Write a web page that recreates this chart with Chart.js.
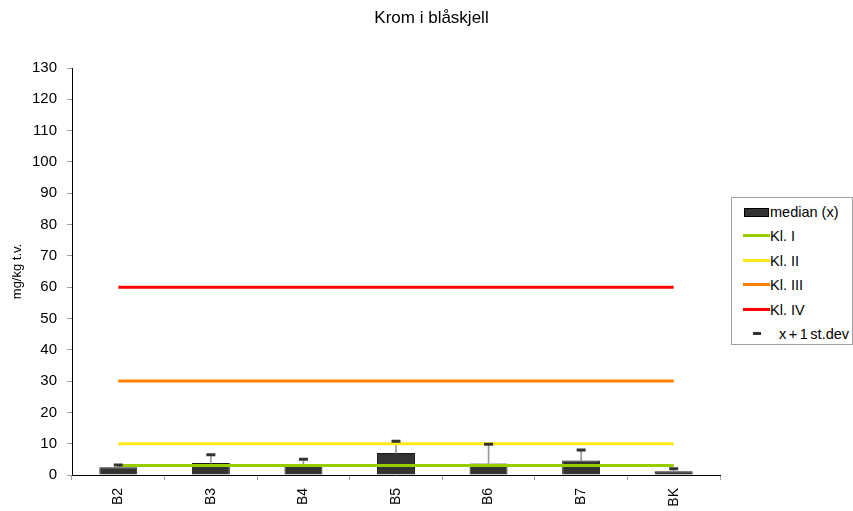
<!DOCTYPE html>
<html><head><meta charset="utf-8">
<script src="https://cdn.jsdelivr.net/npm/chart.js@4/dist/chart.umd.min.js"></script>
<style>
html,body{margin:0;padding:0;background:#fff;}
#wrap{position:relative;width:853px;height:511px;}
canvas{position:absolute;left:0;top:0;}
#title{position:absolute;left:0;width:863px;top:8px;text-align:center;font:17px "Liberation Sans",Arial,sans-serif;color:#000;}
#legend{position:absolute;left:731px;top:197px;width:120px;height:146px;border:1px solid #a0a0a0;background:#fff;font:14.5px "Liberation Sans",Arial,sans-serif;color:#000;overflow:hidden;}
.row{position:absolute;left:0;height:16px;line-height:16px;white-space:nowrap;}
.sym{position:absolute;}
.txt{position:absolute;}
</style></head><body>
<div id="wrap"><canvas id="c" width="853" height="511"></canvas><div id="title">Krom i blåskjell</div><div id="legend"></div></div>
<script>
const categories = ["B2","B3","B4","B5","B6","B7","BK"];
const median = [2.5, 3.8, 3.5, 7.0, 3.7, 4.6, 1.2];
const medianPlusSd = [3.2, 6.5, 5.0, 10.8, 9.8, 8.0, 2.0];
const klI = [3,3,3,3,3,3,3];
const klII = [10,10,10,10,10,10,10];
const klIII = [30,30,30,30,30,30,30];
const klIV = [60,60,60,60,60,60,60];
const yTicks = [0,10,20,30,40,50,60,70,80,90,100,110,120,130];

const FONT = '"Liberation Sans", Arial, sans-serif';
const lineDs = (label, data, color) => ({type:'line', label, data, borderColor:color, backgroundColor:color, borderWidth:3, pointRadius:0, fill:false, order:2});

new Chart(document.getElementById('c'), {
  type: 'bar',
  data: {
    labels: categories,
    datasets: [
      {label:'median (x)', data: median, backgroundColor:'#333333', borderColor:'#1a1a1a', borderWidth:1, barPercentage:0.41, categoryPercentage:1, grouped:false, order:5},
      {label:'whisker', data: median.map((m,i)=>[m, medianPlusSd[i]]), backgroundColor:'#999999', borderWidth:0, barThickness:1, grouped:false, order:4},
      lineDs('Kl. I', klI, '#99CC00'),
      lineDs('Kl. II', klII, '#FFE81A'),
      lineDs('Kl. III', klIII, '#FF8000'),
      lineDs('Kl. IV', klIV, '#FF0000'),
      {type:'line', label:'x + 1 st.dev', data: medianPlusSd, showLine:false, pointStyle:'line', pointRadius:4.5, pointBorderWidth:3, borderColor:'#333333', backgroundColor:'#333333', order:1}
    ]
  },
  options: {
    responsive:false, animation:false,
    layout:{padding:{left:0,right:133,top:68,bottom:0}},
    plugins:{
      legend:{display:false},
      tooltip:{enabled:false},
      title:{display:false}
    },
    scales:{
      x:{
        offset:true,
        grid:{display:true, drawOnChartArea:false, offset:true, tickLength:5, color:'#a0a0a0'},
        border:{color:'#000', width:1},
        ticks:{color:'#000', font:{family:FONT,size:14}, minRotation:90, maxRotation:90, padding:8},
        afterFit:(s)=>{s.height=36;}
      },
      y:{
        min:0, max:130,
        afterBuildTicks:(s)=>{s.ticks = yTicks.map(v=>({value:v}));},
        grid:{display:true, drawOnChartArea:false, tickLength:5, color:'#a0a0a0'},
        border:{color:'#000', width:1},
        ticks:{color:'#000', font:{family:FONT,size:15}, padding:10},
        title:{display:true, text:'mg/kg t.v.', color:'#000', font:{family:FONT,size:13}, padding:{top:10,bottom:0}},
        afterFit:(s)=>{s.width=72;}
      }
    }
  }
});

const legendItems = [
  {text:'median (x)', kind:'box', color:'#333333'},
  {text:'Kl. I', kind:'line', color:'#99CC00'},
  {text:'Kl. II', kind:'line', color:'#FFE81A'},
  {text:'Kl. III', kind:'line', color:'#FF8000'},
  {text:'Kl. IV', kind:'line', color:'#FF0000'},
  {text:'x + 1 st.dev', kind:'dash', color:'#333333'}
];
const lg = document.getElementById('legend');
legendItems.forEach((it,i)=>{
  const row = document.createElement('div');
  row.className='row';
  const cy = 14 + i*24.4;
  row.style.top = (cy-8)+'px';
  row.style.width='120px';
  const sym = document.createElement('div');
  sym.className='sym';
  const txt = document.createElement('div');
  txt.className='txt';
  txt.textContent = it.text;
  if(it.kind==='box'){
    Object.assign(sym.style,{left:'12px',top:'4px',width:'23px',height:'7px',background:it.color,border:'1px solid #000'});
    txt.style.left='38px';
  } else if(it.kind==='line'){
    Object.assign(sym.style,{left:'11px',top:'6px',width:'27px',height:'3px',background:it.color});
    txt.style.left='38px';
  } else {
    Object.assign(sym.style,{left:'21px',top:'6px',width:'8px',height:'3px',background:it.color});
    txt.style.left='47px';
    txt.style.wordSpacing='-1.5px';
  }
  row.appendChild(sym); row.appendChild(txt);
  lg.appendChild(row);
});
</script>
</body></html>
